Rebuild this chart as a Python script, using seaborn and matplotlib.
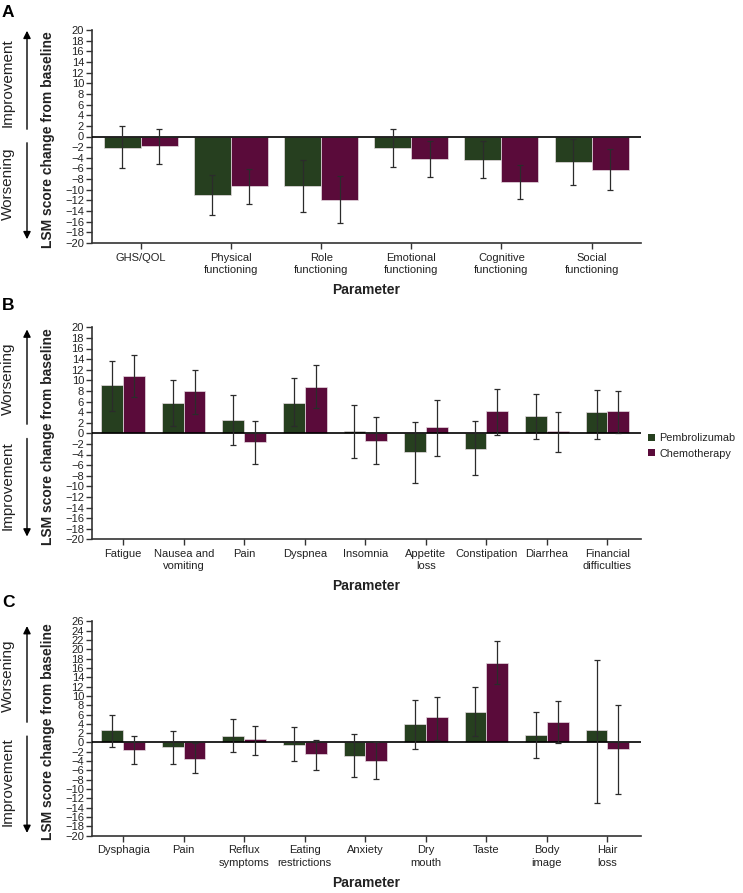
import matplotlib
matplotlib.use("Agg")
import matplotlib.pyplot as plt
from matplotlib.patches import Patch, FancyArrowPatch
import numpy as np
import pandas as pd
import seaborn as sns

# ---------------- data ----------------
groups = ["Pembrolizumab", "Chemotherapy"]
colors = ["#263f1f", "#5a0b3a"]

A_cats = ["GHS/QOL", "Physical\nfunctioning", "Role\nfunctioning",
          "Emotional\nfunctioning", "Cognitive\nfunctioning", "Social\nfunctioning"]
A_pem = [-2.1, -11.0, -9.3, -2.1, -4.5, -4.8]
A_pem_lo = [-5.9, -14.7, -14.2, -5.8, -7.8, -9.1]
A_pem_hi = [1.9, -7.2, -4.4, 1.5, -0.8, -0.5]
A_chemo = [-1.8, -9.3, -11.9, -4.2, -8.6, -6.2]
A_chemo_lo = [-5.1, -12.7, -16.2, -7.6, -11.7, -10.0]
A_chemo_hi = [1.5, -6.1, -7.5, -0.8, -5.3, -2.3]

B_cats = ["Fatigue", "Nausea and\nvomiting", "Pain", "Dyspnea", "Insomnia",
          "Appetite\nloss", "Constipation", "Diarrhea", "Financial\ndifficulties"]
B_pem = [9.1, 5.7, 2.5, 5.8, 0.45, -3.6, -2.9, 3.2, 4.0]
B_pem_lo = [4.3, 1.3, -2.3, 1.3, -4.7, -9.3, -7.8, -1.0, -1.0]
B_pem_hi = [13.7, 10.1, 7.2, 10.5, 5.4, 2.1, 2.3, 7.4, 8.2]
B_chemo = [10.8, 8.0, -1.7, 8.8, -1.45, 1.1, 4.15, 0.35, 4.3]
B_chemo_lo = [6.8, 3.6, -5.7, 4.8, -5.8, -4.2, -0.4, -3.6, 0.1]
B_chemo_hi = [14.8, 11.9, 2.4, 12.8, 3.0, 6.2, 8.4, 4.0, 8.0]

C_cats = ["Dysphagia", "Pain", "Reflux\nsymptoms", "Eating\nrestrictions", "Anxiety",
          "Dry\nmouth", "Taste", "Body\nimage", "Hair\nloss"]
C_pem = [2.6, -0.9, 1.4, -0.5, -2.8, 3.9, 6.6, 1.7, 2.6]
C_pem_lo = [-0.9, -4.7, -2.0, -4.0, -7.3, -1.4, 1.3, -3.4, -13.0]
C_pem_hi = [5.9, 2.4, 5.1, 3.4, 1.9, 9.2, 12.0, 6.6, 17.8]
C_chemo = [-1.6, -3.6, 0.64, -2.5, -3.9, 5.5, 17.1, 4.3, -1.4]
C_chemo_lo = [-4.7, -6.6, -2.6, -5.9, -7.8, 0.6, 12.5, -0.2, -11.1]
C_chemo_hi = [1.3, -0.1, 3.6, 0.5, 0.0, 9.7, 21.8, 8.9, 8.1]

# ---------------- style ----------------
sns.set_theme(style="ticks")
plt.rcParams["font.family"] = ["Liberation Sans", "DejaVu Sans"]
plt.rcParams["axes.unicode_minus"] = True

W, H = 743, 893
fig = plt.figure(figsize=(W / 100, H / 100), dpi=100)

def fx(px):
    return px / W

def fy(py):
    return 1 - py / H

TXT = "#222222"


def panel(cats, pem, pem_lo, pem_hi, ch, ch_lo, ch_hi, rect_px, ylim, width,
          xlim, letter, top_label, bottom_label, arrows):
    left, top, right, bottom = rect_px
    ax = fig.add_axes([fx(left), fy(bottom), (right - left) / W, (bottom - top) / H])
    df = pd.DataFrame({
        "Parameter": cats * 2,
        "Group": [groups[0]] * len(cats) + [groups[1]] * len(cats),
        "Value": list(pem) + list(ch),
    })
    sns.barplot(data=df, x="Parameter", y="Value", hue="Group", order=cats,
                hue_order=groups, palette=colors, width=width, errorbar=None,
                ax=ax, legend=False, edgecolor="#e6dde2", linewidth=0.5,
                saturation=1)
    vals = [pem, ch]
    los = [pem_lo, ch_lo]
    his = [pem_hi, ch_hi]
    bar_conts = list(ax.containers)
    for k, cont in enumerate(bar_conts):
        xs = [b.get_x() + b.get_width() / 2 for b in cont]
        v = np.array(vals[k])
        lo = np.array(los[k])
        hi = np.array(his[k])
        ax.errorbar(xs, v, yerr=[v - lo, hi - v], fmt="none", ecolor="#2b2b2b",
                    elinewidth=0.9, capsize=2.5, capthick=0.9, zorder=5)
    ax.axhline(0, color="black", lw=1.2, zorder=4)
    ax.set_ylim(*ylim)
    ax.set_xlim(*xlim)
    ax.set_yticks(np.arange(ylim[0], ylim[1] + 1, 2))
    ax.tick_params(axis="y", labelsize=8, length=4, width=1, pad=1.5,
                   colors="#333333", labelcolor=TXT)
    ax.tick_params(axis="x", labelsize=8, length=4, width=1, pad=3,
                   colors="#333333", labelcolor=TXT)
    for lab in ax.get_xticklabels():
        lab.set_linespacing(1.3)
    for s in ["top", "right"]:
        ax.spines[s].set_visible(False)
    for s in ["left", "bottom"]:
        ax.spines[s].set_color("#333333")
        ax.spines[s].set_linewidth(1.2)
    ax.set_xlabel("")
    ax.set_ylabel("")
    # axis labels
    fig.text(fx((left + right) / 2), fy(bottom + 47), "Parameter", ha="center",
             va="center", fontsize=10, fontweight="bold", color=TXT)
    fig.text(fx(48.5), fy((top + bottom) / 2 + 3), "LSM score change from baseline",
             rotation=90, ha="center", va="center", fontsize=10,
             fontweight="bold", color=TXT)
    fig.text(fx(2), fy(letter[1]), letter[0], ha="left", va="top",
             fontsize=12.5, fontweight="bold", color="black")
    # side arrows and labels
    (ut, uh), (dt, dh) = arrows
    for t, h in [(ut, uh), (dt, dh)]:
        fig.add_artist(FancyArrowPatch(
            (fx(27), fy(t)), (fx(27), fy(h)), transform=fig.transFigure,
            arrowstyle="-|>", mutation_scale=11, color="black", lw=1.0))
    fig.text(fx(8), fy(top_label[1]), top_label[0], rotation=90, ha="center",
             va="center", fontsize=11, color=TXT)
    fig.text(fx(8), fy(bottom_label[1]), bottom_label[0], rotation=90,
             ha="center", va="center", fontsize=11, color=TXT)
    return ax


axA = panel(A_cats, A_pem, A_pem_lo, A_pem_hi, A_chemo, A_chemo_lo, A_chemo_hi,
            (91.7, 30, 640.7, 243), (-20, 20), 0.82, (-0.545, 5.545),
            ("A", 5), ("Improvement", 83), ("Worsening", 184),
            ((132, 28), (140, 242)))
axB = panel(B_cats, B_pem, B_pem_lo, B_pem_hi, B_chemo, B_chemo_lo, B_chemo_hi,
            (91.7, 327.3, 640.7, 539.3), (-20, 20), 0.72, (-0.52, 8.55),
            ("B", 298), ("Worsening", 379), ("Improvement", 486),
            ((427, 326.7), (435.7, 539.3)))
axC = panel(C_cats, C_pem, C_pem_lo, C_pem_hi, C_chemo, C_chemo_lo, C_chemo_hi,
            (91.7, 621.3, 640.7, 835.7), (-20, 26), 0.72, (-0.52, 8.55),
            ("C", 595), ("Worsening", 676), ("Improvement", 782),
            ((725, 623.3), (733.3, 835.7)))

handles = [Patch(facecolor=c, edgecolor="none") for c in colors]
fig.legend(handles, groups, loc="upper left",
           bbox_to_anchor=(fx(646), fy(431)), frameon=False, fontsize=7.8,
           handlelength=0.6, handleheight=0.6, handletextpad=0.45,
           labelspacing=0.5, borderpad=0.2, borderaxespad=0, labelcolor=TXT)

fig.savefig("out.png", dpi=100)
